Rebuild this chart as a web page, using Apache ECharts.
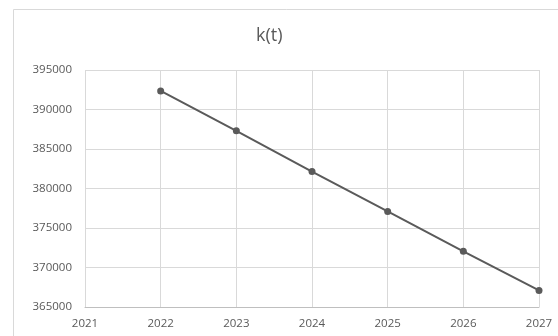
<!DOCTYPE html>
<html>
<head>
<meta charset="utf-8">
<script src="https://cdn.jsdelivr.net/npm/echarts@6/dist/echarts.min.js"></script>
<style>
  html, body { margin: 0; padding: 0; background: #fff; }
  #chart { width: 558px; height: 336px; }
</style>
</head>
<body>
<div id="chart"></div>
<script>
// Yearly values of k(t)
const years = [2022, 2023, 2024, 2025, 2026, 2027];
const kValues = [392350, 387300, 382150, 377100, 372050, 367100];
const chartTitle = 'k(t)';

const seriesData = years.map((y, i) => [y, kValues[i]]);
const textColor = '#595959';
const fontFamily = '"Open Sans", "Liberation Sans", sans-serif';

const chart = echarts.init(document.getElementById('chart'), null, { renderer: 'canvas' });
chart.setOption({
  animation: false,
  backgroundColor: '#ffffff',
  graphic: [{
    type: 'rect',
    shape: { x: 13.5, y: 9.5, width: 700, height: 500 },
    style: { fill: 'none', stroke: '#d9d9d9', lineWidth: 1 },
    silent: true,
    z: -10
  }, {
    type: 'text',
    left: 256,
    top: 27,
    style: { text: chartTitle, fill: textColor, fontSize: 18, fontFamily: fontFamily },
    silent: true
  }],
  grid: { left: 85, right: 19, top: 70, bottom: 29, containLabel: false },
  xAxis: {
    type: 'value',
    min: 2021,
    max: 2027,
    interval: 1,
    axisLine: { show: true, lineStyle: { color: '#bfbfbf', width: 1 } },
    axisTick: { show: false },
    splitLine: { show: true, lineStyle: { color: '#d9d9d9', width: 1 } },
    axisLabel: { color: textColor, fontSize: 11.5, fontFamily: fontFamily, margin: 11,
                 formatter: v => String(v) }
  },
  yAxis: {
    type: 'value',
    min: 365000,
    max: 395000,
    interval: 5000,
    axisLine: { show: false },
    axisTick: { show: false },
    splitLine: { show: true, lineStyle: { color: '#d9d9d9', width: 1 } },
    axisLabel: { color: textColor, fontSize: 11.5, fontFamily: fontFamily, margin: 13,
                 formatter: v => String(v) }
  },
  series: [{
    type: 'line',
    data: seriesData,
    symbol: 'circle',
    symbolSize: 7,
    lineStyle: { color: '#5a5a5a', width: 2 },
    itemStyle: { color: '#5a5a5a' }
  }]
});
</script>
</body>
</html>
